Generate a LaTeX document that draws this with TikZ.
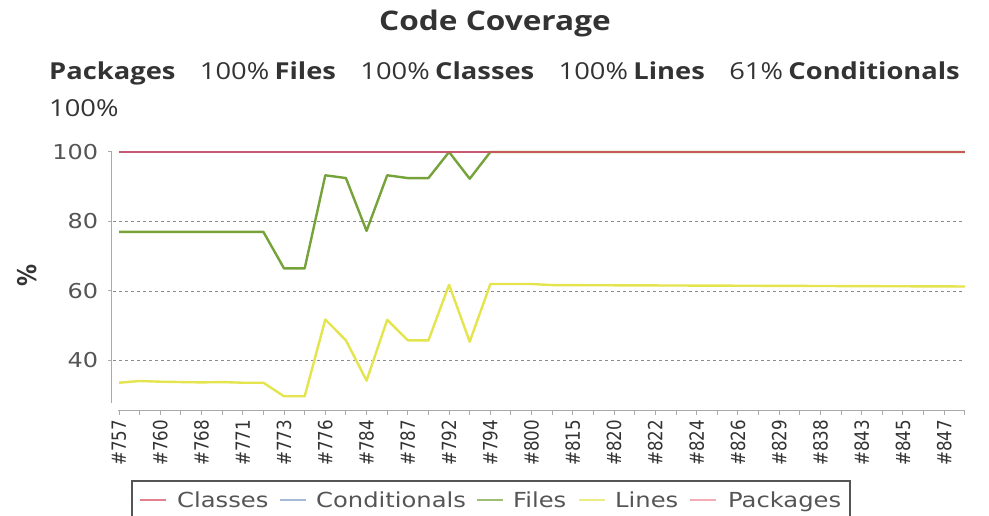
\documentclass[tikz,border=0pt]{standalone}
\usepackage{fontspec}
\usepackage{graphicx}
\setmainfont{DejaVu Sans}
\newfontfamily\headfont{Open Sans}
\usetikzlibrary{positioning}
\definecolor{clsred}{HTML}{D94A5E}
\definecolor{cndblue}{HTML}{7E9CC4}
\definecolor{filgreen}{HTML}{76A23A}
\definecolor{linyellow}{HTML}{E4E44E}
\definecolor{pkgpink}{HTML}{F08A96}
\definecolor{titlegray}{HTML}{333333}
\definecolor{txtgray}{HTML}{555555}
\definecolor{axgray}{HTML}{AAAAAA}
\definecolor{gridgray}{HTML}{8C8C8C}
\newcommand{\hstr}[1]{\scalebox{1.17}[1]{#1}}
\newcommand{\vstr}[1]{\scalebox{1}[1.17]{#1}}

\begin{document}
\begin{tikzpicture}[x=1pt,y=-1pt,
    hd/.style={inner sep=0pt,font=\headfont\fontsize{23.35}{27}\selectfont,text=titlegray},
    hdb/.style={hd,font=\headfont\bfseries\fontsize{23.35}{27}\selectfont},
    ylab/.style={inner sep=0pt,anchor=east,font=\fontsize{20.5}{24}\selectfont,text=txtgray},
    xlab/.style={inner sep=0pt,anchor=east,rotate=90,font=\fontsize{16.7}{20}\selectfont,text=titlegray},
    legtxt/.style={inner sep=0pt,anchor=base west,font=\fontsize{20.7}{24}\selectfont,text=txtgray},
    legsw/.style={line width=2.5pt,opacity=.7},
    axln/.style={draw=axgray,line width=1pt},
    gridln/.style={draw=gridgray,line width=.8pt,dash pattern=on 3pt off 3pt},
    serie/.style={line width=2.4pt,line join=round}
]
\useasboundingbox (0,0) rectangle (989,516);

% title and summary
\node[hdb,font=\headfont\bfseries\fontsize{27}{30}\selectfont,anchor=base] (title) at (495,31) {\hstr{Code Coverage}};
\node[hdb,anchor=base west] (hpkg) at (49,80) {\hstr{Packages}};
\node[hd,base right=24pt of hpkg] (vpkg) {\hstr{100\%}};
\node[hdb,base right=5pt of vpkg] (hfil) {\hstr{Files}};
\node[hd,base right=24pt of hfil] (vfil) {\hstr{100\%}};
\node[hdb,base right=5pt of vfil] (hcls) {\hstr{Classes}};
\node[hd,base right=24pt of hcls] (vcls) {\hstr{100\%}};
\node[hdb,base right=5pt of vcls] (hlin) {\hstr{Lines}};
\node[hd,base right=24pt of hlin] (vlin) {\hstr{61\%}};
\node[hdb,base right=5pt of vlin] (hcnd) {\hstr{Conditionals}};
\node[hd,anchor=base west] (vcnd) at (49,117) {\hstr{100\%}};

\node[inner sep=0pt,rotate=90,font=\bfseries\fontsize{22}{26}\selectfont,text=titlegray] (ytitle) at (27,275) {\vstr{\%}};

% chart
\begin{scope}[shift={(119,499.5)},x=20.63pt,y=3.475pt]
  \foreach \v in {40,60,80}
    \draw[gridln] (-0.3,\v) -- (40.9,\v);
  \draw[axln] (-0.34,100) -- (-0.34,27.8);
  \foreach \v in {40,60,80,100} {
    \draw[axln] (-0.53,\v) -- (-0.34,\v);
    \node[ylab] (y\v) at (-1.0,\v) {\hstr{\v}};
  }
  \draw[axln] (-0.05,25.5) -- (41,25.5);
  \foreach \i in {0,...,41}
    \draw[axln] (\i,25.5) -- (\i,24.3);
  \foreach \n [count=\k from 0] in {757,760,768,771,773,776,784,787,792,794,800,815,820,822,824,826,829,838,843,845,847}
    \node[xlab] (x\n) at (2*\k,22.9) {\vstr{\#\n}};

  % series
  \draw[serie,pkgpink] (0,100) -- (41,100);
  \draw[serie,cndblue] (0,100) -- (41,100);
  \draw[serie,filgreen] (0,77)
    \foreach \v [count=\i] in {77,77,77,77,77,77,77,66.5,66.5,93.3,92.5,77.3,93.3,92.5,92.5,100,92.3,100}
      { -- (\i,\v) } -- (41,100);
  \draw[serie,clsred,opacity=.8] (0,100) -- (41,100);
  \draw[serie,linyellow] (0,33.6)
    \foreach \v [count=\i] in {34.1,33.9,33.8,33.7,33.8,33.6,33.6,29.7,29.7,51.8,45.8,34.2,51.7,45.8,45.8,61.8,45.4,62.0,62.0,62.0,61.7}
      { -- (\i,\v) } -- (41,61.3);
\end{scope}

% legend
\draw[draw=txtgray,line width=1.5pt] (132,518) |- (850,481) -- (850,518);
\node[legtxt] (lcls) at (177,507) {\hstr{Classes}};
\node[legtxt] (lcnd) at (316,507) {\hstr{Conditionals}};
\node[legtxt] (lfil) at (513,507) {\hstr{Files}};
\node[legtxt] (llin) at (615,507) {\hstr{Lines}};
\node[legtxt] (lpkg) at (728,507) {\hstr{Packages}};
\draw[legsw,clsred] ([xshift=-37pt,yshift=7pt]lcls.base west) -- ++(26,0);
\draw[legsw,cndblue] ([xshift=-36pt,yshift=7pt]lcnd.base west) -- ++(26,0);
\draw[legsw,filgreen] ([xshift=-36pt,yshift=7pt]lfil.base west) -- ++(26,0);
\draw[legsw,linyellow] ([xshift=-36pt,yshift=7pt]llin.base west) -- ++(26,0);
\draw[legsw,pkgpink] ([xshift=-38pt,yshift=7pt]lpkg.base west) -- ++(26,0);
\end{tikzpicture}
\end{document}
